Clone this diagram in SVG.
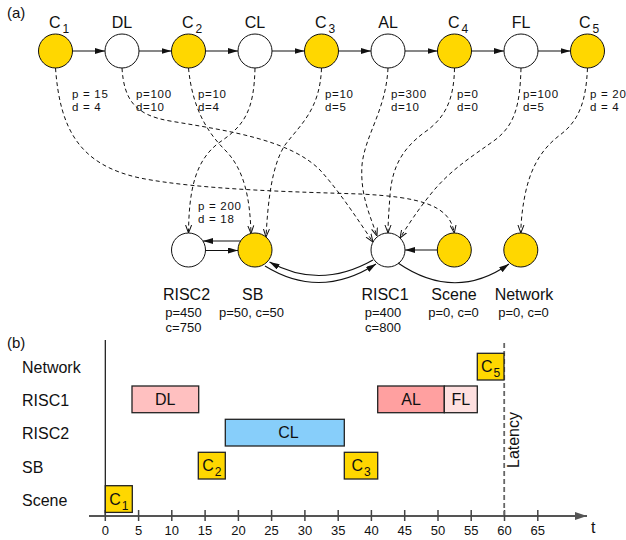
<svg xmlns="http://www.w3.org/2000/svg" width="626" height="540" viewBox="0 0 626 540">
<defs>
<style>
text{font-family:"Liberation Sans",Arial,sans-serif;fill:#111}
.lbl{font-size:16px}
.sub{font-size:12px}
.pd{font-size:11.5px;letter-spacing:0.7px}
.pc{font-size:13px}
.tk{font-size:13px;text-anchor:middle}
.cy{fill:#FFD700;stroke:#111;stroke-width:1}
.cw{fill:#fff;stroke:#111;stroke-width:1}
.sol{fill:none;stroke:#111;stroke-width:1.1;marker-end:url(#ah)}
.dsh{fill:none;stroke:#111;stroke-width:1;stroke-dasharray:4 3;marker-end:url(#vee)}
.box{stroke:#222;stroke-width:1.3}
.mid{text-anchor:middle}
</style>
<marker id="ah" viewBox="0 0 10 6" refX="10" refY="3" markerWidth="10" markerHeight="6" markerUnits="userSpaceOnUse" orient="auto"><path d="M0,0 L10,3 L0,6 z" fill="#111"/></marker>
<marker id="vee" viewBox="0 0 8 8" refX="8" refY="4" markerWidth="8" markerHeight="8" markerUnits="userSpaceOnUse" orient="auto"><path d="M0,1 L8,4 L0,7" fill="none" stroke="#111" stroke-width="1"/></marker>
<marker id="axh" viewBox="0 0 12 8" refX="12" refY="4" markerWidth="12" markerHeight="8" markerUnits="userSpaceOnUse" orient="auto"><path d="M0,0 L12,4 L0,8 z" fill="#555"/></marker>
</defs>

<text x="7" y="18" style="font-size:15px">(a)</text>

<!-- top chain nodes -->
<g id="C1"><circle class="cy" cx="55.5" cy="51" r="17"/><text x="49" y="28" class="lbl">C<tspan class="sub" dx="2" dy="5">1</tspan></text></g>
<g id="DL"><circle class="cw" cx="122" cy="51" r="17"/><text x="122" y="28" class="lbl mid">DL</text></g>
<g id="C2"><circle class="cy" cx="188.5" cy="51" r="17"/><text x="182" y="28" class="lbl">C<tspan class="sub" dx="2" dy="5">2</tspan></text></g>
<g id="CL"><circle class="cw" cx="255" cy="51" r="17"/><text x="255" y="28" class="lbl mid">CL</text></g>
<g id="C3"><circle class="cy" cx="321.5" cy="51" r="17"/><text x="315" y="28" class="lbl">C<tspan class="sub" dx="2" dy="5">3</tspan></text></g>
<g id="AL"><circle class="cw" cx="388" cy="51" r="17"/><text x="388" y="28" class="lbl mid">AL</text></g>
<g id="C4"><circle class="cy" cx="454.5" cy="51" r="17"/><text x="448" y="28" class="lbl">C<tspan class="sub" dx="2" dy="5">4</tspan></text></g>
<g id="FL"><circle class="cw" cx="521" cy="51" r="17"/><text x="521" y="28" class="lbl mid">FL</text></g>
<g id="C5"><circle class="cy" cx="587.5" cy="51" r="17"/><text x="579" y="28" class="lbl">C<tspan class="sub" dx="2" dy="5">5</tspan></text></g>

<!-- bottom resource nodes -->
<g id="RISC2"><circle class="cw" cx="188.5" cy="250" r="17"/><text x="186.5" y="300" class="lbl mid">RISC2</text><text x="183.5" y="316.7" class="pc mid">p=450<tspan x="183.5" dy="15">c=750</tspan></text></g>
<g id="SB"><circle class="cy" cx="255" cy="250" r="17"/><text x="252.7" y="300" class="lbl mid">SB</text><text x="251.5" y="316.7" class="pc mid">p=50, c=50</text></g>
<g id="RISC1"><circle class="cw" cx="388" cy="250" r="17"/><text x="385" y="300" class="lbl mid">RISC1</text><text x="383" y="316.7" class="pc mid">p=400<tspan x="383" dy="15">c=800</tspan></text></g>
<g id="Scene"><circle class="cy" cx="454.3" cy="250" r="17"/><text x="454" y="300" class="lbl mid">Scene</text><text x="453.5" y="316.7" class="pc mid">p=0, c=0</text></g>
<g id="Network"><circle class="cy" cx="520.8" cy="250" r="17"/><text x="524" y="300" class="lbl mid">Network</text><text x="523.5" y="316.7" class="pc mid">p=0, c=0</text></g>

<!-- connectors -->
<g id="connectors">
<path class="sol" d="M72.5,51 L105,51"/>
<path class="sol" d="M139,51 L171.5,51"/>
<path class="sol" d="M205.5,51 L238,51"/>
<path class="sol" d="M272,51 L304.5,51"/>
<path class="sol" d="M338.5,51 L371,51"/>
<path class="sol" d="M405,51 L437.5,51"/>
<path class="sol" d="M471.5,51 L504,51"/>
<path class="sol" d="M538,51 L570.5,51"/>

<path class="sol" d="M240.6,241 L203,241"/>
<path class="sol" d="M205.5,250.5 L238,250.5"/>
<path class="sol" d="M437.3,250 L405,250"/>
<path class="sol" d="M373,260 Q320,290 269.5,262"/>
<path class="sol" d="M265,266 Q320,300 376,264"/>
<path class="sol" d="M398,263 Q455,302 509,264"/>

<path class="dsh" d="M55.5,68 C60,130 80,165 140,178 C200,190 300,192 360,194 C420,197 450,205 454.3,233"/>
<path class="dsh" d="M122,68 C124,100 135,115 170,121 C230,131 290,140 320,170 C340,192 358,220 373,242"/>
<path class="dsh" d="M188.5,68 C192,105 205,130 225,150 C245,170 250,200 251,233.5"/>
<path class="dsh" d="M255,68 C254,110 245,125 220,142 C195,160 189,190 188.5,233"/>
<path class="dsh" d="M321.5,68 C320,110 300,125 285,145 C272,165 268,200 266,237"/>
<path class="dsh" d="M388,68 C386,110 365,135 362,165 C360,195 370,215 377,236"/>
<path class="dsh" d="M454.5,68 C454,100 445,118 425,132 C400,150 392,170 390,195 C389,210 388,222 388,233"/>
<path class="dsh" d="M521,68 C520,105 515,125 495,140 C470,158 450,170 430,195 C418,210 408,225 400,238"/>
<path class="dsh" d="M587.5,68 C586,100 580,120 560,135 C540,150 530,170 525,195 C522,210 521,222 520.8,233"/>
</g>

<!-- edge labels -->
<g id="edge-labels">
<text x="72" y="98" class="pd">p = 15<tspan x="72" dy="13">d = 4</tspan></text>
<text x="136" y="98" class="pd">p=100<tspan x="136" dy="13">d=10</tspan></text>
<text x="198" y="98" class="pd">p=10<tspan x="198" dy="13">d=4</tspan></text>
<text x="325" y="98" class="pd">p=10<tspan x="325" dy="13">d=5</tspan></text>
<text x="391" y="98" class="pd">p=300<tspan x="391" dy="13">d=10</tspan></text>
<text x="457" y="98" class="pd">p=0<tspan x="457" dy="13">d=0</tspan></text>
<text x="523" y="98" class="pd">p=100<tspan x="523" dy="13">d=5</tspan></text>
<text x="590" y="98" class="pd">p = 20<tspan x="590" dy="13">d = 4</tspan></text>
<text x="198" y="210" class="pd">p = 200<tspan x="198" dy="13">d = 18</tspan></text>
</g>

<!-- (b) schedule -->
<text x="7" y="348" style="font-size:15px">(b)</text>
<g id="row-labels">
<text x="22" y="372.7" class="lbl">Network</text>
<text x="22" y="406" class="lbl">RISC1</text>
<text x="22" y="439.3" class="lbl">RISC2</text>
<text x="22" y="472.7" class="lbl">SB</text>
<text x="22" y="506" class="lbl">Scene</text>
</g>

<g id="axes">
<line x1="105.3" y1="340" x2="105.3" y2="516" stroke="#111" stroke-width="1.2"/>
<line x1="89" y1="516" x2="587" y2="516" stroke="#555" stroke-width="1.8" marker-end="url(#axh)"/>
<g stroke="#444" stroke-width="1.5">
<line x1="105.3" y1="510" x2="105.3" y2="521"/>
<line x1="138.6" y1="510" x2="138.6" y2="521"/>
<line x1="171.8" y1="510" x2="171.8" y2="521"/>
<line x1="205.1" y1="510" x2="205.1" y2="521"/>
<line x1="238.4" y1="510" x2="238.4" y2="521"/>
<line x1="271.6" y1="510" x2="271.6" y2="521"/>
<line x1="304.9" y1="510" x2="304.9" y2="521"/>
<line x1="338.2" y1="510" x2="338.2" y2="521"/>
<line x1="371.4" y1="510" x2="371.4" y2="521"/>
<line x1="404.7" y1="510" x2="404.7" y2="521"/>
<line x1="438" y1="510" x2="438" y2="521"/>
<line x1="471.2" y1="510" x2="471.2" y2="521"/>
<line x1="504.5" y1="510" x2="504.5" y2="521"/>
<line x1="537.8" y1="510" x2="537.8" y2="521"/>
</g>
<text x="105.3" y="535" class="tk">0</text>
<text x="138.6" y="535" class="tk">5</text>
<text x="171.8" y="535" class="tk">10</text>
<text x="205.1" y="535" class="tk">15</text>
<text x="238.4" y="535" class="tk">20</text>
<text x="271.6" y="535" class="tk">25</text>
<text x="304.9" y="535" class="tk">30</text>
<text x="338.2" y="535" class="tk">35</text>
<text x="371.4" y="535" class="tk">40</text>
<text x="404.7" y="535" class="tk">45</text>
<text x="438" y="535" class="tk">50</text>
<text x="471.2" y="535" class="tk">55</text>
<text x="504.5" y="535" class="tk">60</text>
<text x="537.8" y="535" class="tk">65</text>
<text x="591" y="533" class="lbl">t</text>
</g>

<g id="latency">
<line x1="504.2" y1="343" x2="504.2" y2="515" stroke="#666" stroke-width="1.8" stroke-dasharray="5 3"/>
<text transform="translate(518.5,440) rotate(-90)" class="lbl mid">Latency</text>
</g>

<g id="bars">
<g id="bar-C1"><rect class="box" x="105.3" y="485.7" width="27" height="26.7" fill="#FFD700"/><text x="118.8" y="504.5" class="lbl mid">C<tspan class="sub" dx="1" dy="5">1</tspan></text></g>
<g id="bar-C2"><rect class="box" x="198.3" y="452.3" width="27" height="26.7" fill="#FFD700"/><text x="211.8" y="471.2" class="lbl mid">C<tspan class="sub" dx="1" dy="5">2</tspan></text></g>
<g id="bar-C3"><rect class="box" x="344.3" y="452.3" width="33.4" height="26.7" fill="#FFD700"/><text x="361" y="471.2" class="lbl mid">C<tspan class="sub" dx="1" dy="5">3</tspan></text></g>
<g id="bar-C5"><rect class="box" x="477.3" y="353.3" width="26.7" height="26.7" fill="#FFD700"/><text x="490.6" y="372.2" class="lbl mid">C<tspan class="sub" dx="1" dy="5">5</tspan></text></g>
<g id="bar-DL"><rect class="box" x="132" y="386" width="66.7" height="26.7" fill="#FFC0C0"/><text x="165.3" y="405" class="lbl mid">DL</text></g>
<g id="bar-CL"><rect class="box" x="225.3" y="419.3" width="119" height="26.7" fill="#87CEFA"/><text x="288.5" y="438.4" class="lbl mid">CL</text></g>
<g id="bar-AL"><rect class="box" x="377.7" y="386" width="66.6" height="26.7" fill="#FFA0A0"/><text x="411" y="405" class="lbl mid">AL</text></g>
<g id="bar-FL"><rect class="box" x="444.3" y="386" width="33" height="26.7" fill="#FFE0E0"/><text x="460.8" y="405" class="lbl mid">FL</text></g>
</g>
</svg>
